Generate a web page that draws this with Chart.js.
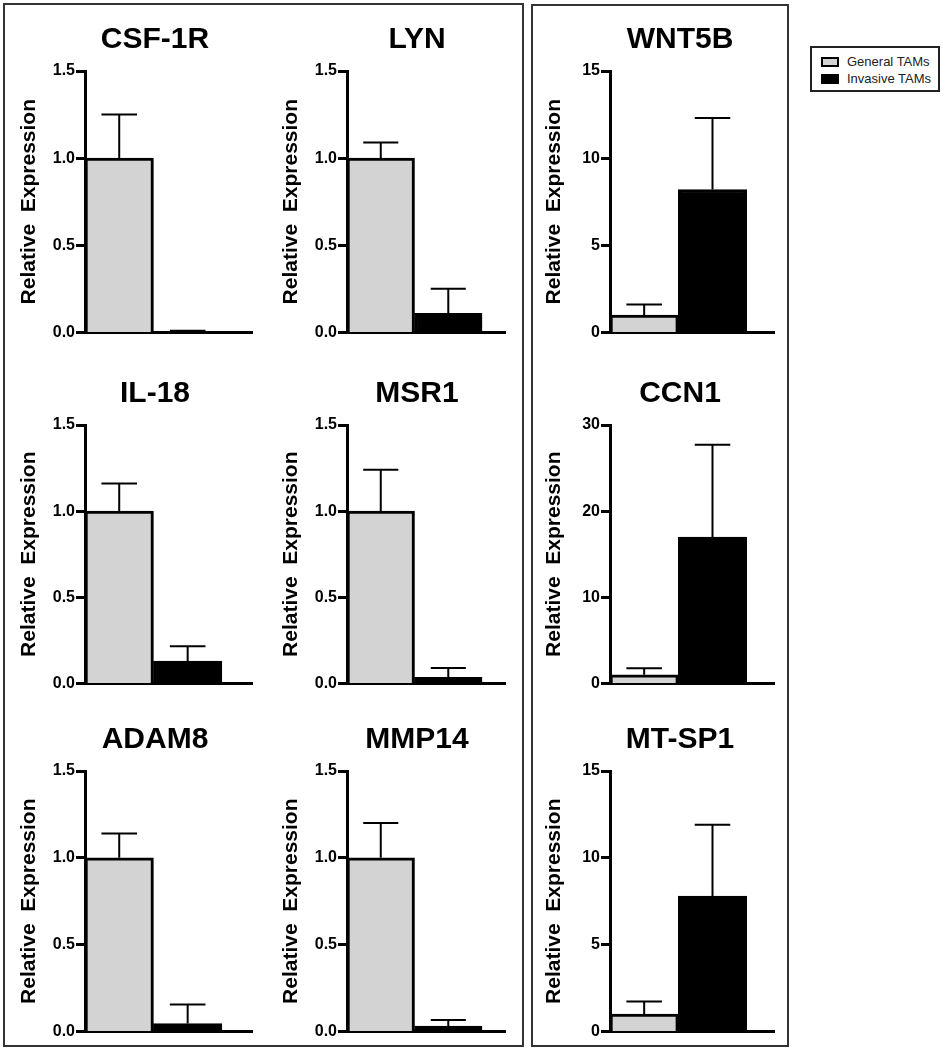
<!DOCTYPE html>
<html>
<head>
<meta charset="utf-8">
<script src="https://cdn.jsdelivr.net/npm/chart.js@4.4.1/dist/chart.umd.min.js"></script>
<style>
  body { margin: 0; background: #fff; width: 943px; height: 1050px; position: relative; overflow: hidden;
         font-family: 'Liberation Sans', Arial, sans-serif; }
  .frame { position: absolute; border: 2px solid #333; box-sizing: border-box; }
  canvas { position: absolute; }
  #legend { position: absolute; left: 810px; top: 46px; width: 130px; height: 46px; border: 2px solid #222;
            box-sizing: border-box; background: #fff; font-size: 13px; color: #222; padding: 5px 0 0 9px; }
  #legend div { height: 17px; line-height: 17px; white-space: nowrap; }
  #legend span { display: inline-block; width: 18px; height: 10px; border: 2px solid #000; box-sizing: border-box;
                 vertical-align: -1px; margin-right: 8px; }
</style>
</head>
<body>
<div class="frame" style="left:3px;top:3px;width:521px;height:1044px"></div>
<div class="frame" style="left:531px;top:4px;width:258px;height:1043px"></div>
<div id="legend">
  <div><span style="background:#d3d3d3"></span>General TAMs</div>
  <div><span style="background:#000"></span>Invasive TAMs</div>
</div>
<script>
// data, row by row (left panel 2 columns, right panel 1 column)
const genes = ['CSF-1R', 'LYN', 'WNT5B', 'IL-18', 'MSR1', 'CCN1', 'ADAM8', 'MMP14', 'MT-SP1'];
const seriesNames = ['General TAMs', 'Invasive TAMs'];
const general = [1, 1, 1, 1, 1, 1, 1, 1, 1];
const generalErr = [0.25, 0.09, 0.6, 0.16, 0.24, 0.75, 0.14, 0.2, 0.72];
const invasive = [0.004, 0.11, 8.2, 0.13, 0.035, 17.0, 0.045, 0.03, 7.8];
const invasiveErr = [0.006, 0.14, 4.1, 0.085, 0.055, 10.7, 0.11, 0.035, 4.1];
const yMax = [1.5, 1.5, 15, 1.5, 1.5, 30, 1.5, 1.5, 15];
const yStep = [0.5, 0.5, 5, 0.5, 0.5, 10, 0.5, 0.5, 5];

// layout
const axisX = [85, 347, 610];
const xMax = [1.94, 1.84, 1.9];
const axisLen = [167, 158, 164];
const chartTop = [71, 425, 771];
const chartBottom = [332, 683, 1031];
const W = 284;
const FONT = "'Liberation Sans', Arial, sans-serif";

Chart.defaults.color = '#000';
Chart.defaults.font.family = FONT;

const errorBars = {
  id: 'errorBars',
  afterDatasetsDraw(chart) {
    const ctx = chart.ctx;
    const y = chart.scales.y;
    chart.data.datasets.forEach((ds, i) => {
      chart.getDatasetMeta(i).data.forEach((bar, j) => {
        const top = y.getPixelForValue(ds.data[j].y + ds.err[j]);
        const half = bar.width * 0.26;
        ctx.save();
        ctx.strokeStyle = '#000';
        ctx.lineWidth = 2;
        ctx.beginPath();
        ctx.moveTo(bar.x, bar.y);
        ctx.lineTo(bar.x, top);
        ctx.moveTo(bar.x - half, top);
        ctx.lineTo(bar.x + half, top);
        ctx.stroke();
        ctx.restore();
      });
    });
  }
};

genes.forEach((gene, k) => {
  const col = k % 3, row = Math.floor(k / 3);
  const top = chartTop[row] - 63;
  const H = chartBottom[row] - top + 11;
  const cv = document.createElement('canvas');
  cv.width = W; cv.height = H;
  cv.style.left = (axisX[col] - 72) + 'px';
  cv.style.top = top + 'px';
  document.body.appendChild(cv);

  const isSmall = yMax[k] < 5;
  new Chart(cv, {
    type: 'bar',
    data: {
      datasets: [
        { label: seriesNames[0], data: [{ x: 0, y: general[k] }], err: [generalErr[k]],
          backgroundColor: '#d3d3d3' },
        { label: seriesNames[1], data: [{ x: 1, y: invasive[k] }], err: [invasiveErr[k]],
          backgroundColor: '#000' }
      ]
    },
    options: {
      responsive: false,
      animation: false,
      layout: { padding: 0 },
      datasets: { bar: { grouped: false, barPercentage: 1, categoryPercentage: 1,
                         borderColor: '#000', borderWidth: 3, borderSkipped: 'start' } },
      plugins: {
        legend: { display: false },
        tooltip: { enabled: false },
        title: { display: true, text: gene, color: '#000',
                 font: { size: 30, weight: 'bold', family: FONT },
                 padding: { top: 14, bottom: 13 } }
      },
      scales: {
        x: {
          type: 'linear', min: -0.5, max: xMax[col], offset: false,
          afterBuildTicks: s => { s.ticks = [{ value: 0 }, { value: 1 }]; },
          ticks: { display: false },
          grid: { display: false },
          border: { display: true, color: '#000', width: 3 }
        },
        y: {
          min: 0, max: yMax[k],
          afterFit: s => { s.width = 72; },
          ticks: { stepSize: yStep[k], padding: 1, color: '#000',
                   font: { size: 16, weight: 'bold', family: FONT },
                   callback: v => isSmall ? v.toFixed(1) : v },
          grid: { display: true, drawOnChartArea: false, drawTicks: true,
                  tickLength: 9, tickWidth: 3, tickColor: '#000' },
          border: { display: true, color: '#000', width: 3 },
          title: { display: true, text: 'Relative  Expression', color: '#000',
                   font: { size: 21, weight: 'bold', family: FONT },
                   padding: { top: 4, bottom: 0 } }
        },
        // empty right-hand space so the gene title sits where it does in the figure
        pad: {
          type: 'linear', position: 'right', display: true,
          afterFit: s => { s.width = W - 72 - axisLen[col]; },
          ticks: { display: false },
          grid: { display: false },
          border: { display: false }
        }
      }
    },
    plugins: [errorBars]
  });
});
</script>
</body>
</html>
